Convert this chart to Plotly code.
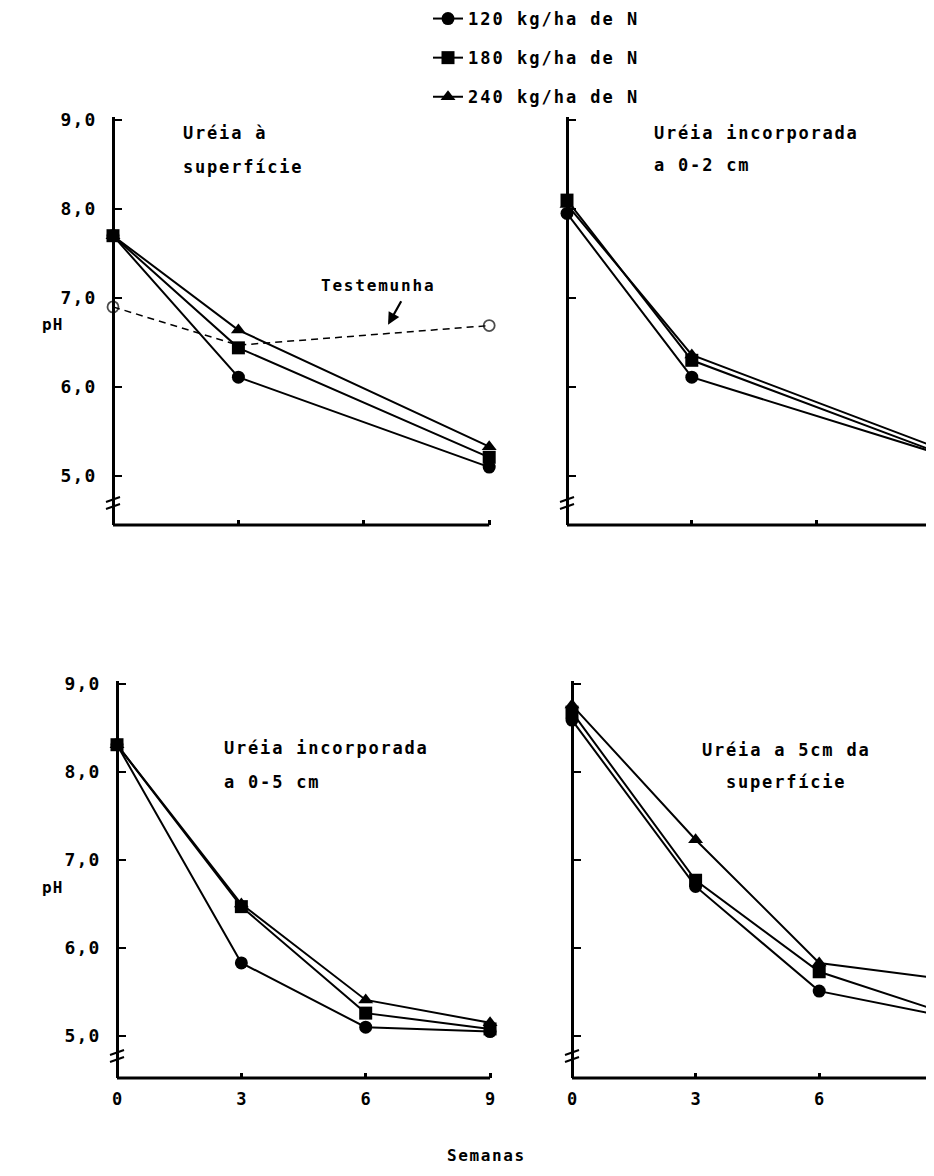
import plotly.graph_objects as go

# page is shown with the browser's default 8px body margin; coordinates below
# are given in window pixels and converted to figure fractions.
OFF = 8
W, H = 934 - 2 * OFF, 1176 - 2 * OFF

# ---------------- data ----------------
weeks_top = [0, 3, 9]
weeks_bottom = [0, 3, 6, 9]
doses = ["120 kg/ha de N", "180 kg/ha de N", "240 kg/ha de N"]

# Uréia à superfície
sup_120 = [7.70, 6.11, 5.10]
sup_180 = [7.70, 6.44, 5.21]
sup_240 = [7.70, 6.64, 5.33]
sup_testemunha = [6.90, 6.47, 6.69]

# Uréia incorporada a 0-2 cm
inc2_120 = [7.95, 6.11, 5.24]
inc2_180 = [8.10, 6.30, 5.25]
inc2_240 = [8.05, 6.36, 5.30]

# Uréia incorporada a 0-5 cm
inc5_120 = [8.31, 5.83, 5.10, 5.05]
inc5_180 = [8.31, 6.47, 5.26, 5.08]
inc5_240 = [8.31, 6.50, 5.41, 5.15]

# Uréia a 5 cm da superfície
prof5_120 = [8.59, 6.70, 5.51, 5.23]
prof5_180 = [8.68, 6.77, 5.73, 5.27]
prof5_240 = [8.76, 7.23, 5.83, 5.65]

ph_ticks = [5, 6, 7, 8, 9]
ph_labels = ["5,0", "6,0", "7,0", "8,0", "9,0"]
week_ticks = [0, 3, 6, 9]
week_labels = ["0", "3", "6", "9"]

# ---------------- style ----------------
FAM = "DejaVu Sans Mono"
SYMBOLS = ["circle", "square", "triangle-up"]


def T(s, sp=2.0):
    return f'<span style="letter-spacing:{sp}px">{s}</span>'


def px(x):
    return (x - OFF) / W


def py(y):
    return 1 - (y - OFF) / H


# panel geometry in window pixels
panels = [
    dict(yax=113, xl=92, xr=505, ppw=41.8, yt=117, yb=525, y9=120, ppu=89.0,
         weeks=weeks_top, series=[sup_120, sup_180, sup_240], labels=True, xlabels=False),
    dict(yax=567, xl=546, xr=926, ppw=41.6, yt=117, yb=525, y9=120, ppu=89.0,
         weeks=weeks_top, series=[inc2_120, inc2_180, inc2_240], labels=False, xlabels=False),
    dict(yax=117, xl=96, xr=505, ppw=41.45, yt=681, yb=1078, y9=684, ppu=88.0,
         weeks=weeks_bottom, series=[inc5_120, inc5_180, inc5_240], labels=True, xlabels=True),
    dict(yax=572, xl=551, xr=926, ppw=41.2, yt=681, yb=1078, y9=684, ppu=88.0,
         weeks=weeks_bottom, series=[prof5_120, prof5_180, prof5_240], labels=False, xlabels=True),
]

fig = go.Figure()
shapes = []
layout = {}

for i, p in enumerate(panels):
    n = "" if i == 0 else str(i + 1)
    xa, ya = "x" + n, "y" + n
    for j, vals in enumerate(p["series"]):
        fig.add_trace(go.Scatter(
            x=p["weeks"], y=vals, xaxis=xa, yaxis=ya,
            mode="lines+markers", name=T(doses[j]),
            legendgroup=doses[j], showlegend=(i == 0),
            line=dict(color="black", width=2),
            marker=dict(symbol=SYMBOLS[j], size=13, color="black"),
        ))
    if i == 0:
        fig.add_trace(go.Scatter(
            x=weeks_top, y=sup_testemunha, xaxis=xa, yaxis=ya,
            mode="lines+markers", name="Testemunha", showlegend=False,
            line=dict(color="black", width=1.5, dash="7px,5px"),
            marker=dict(symbol="circle-open", size=[11, 0, 11], color="black",
                        line=dict(width=1.8, color="black")),
        ))

    xr0 = -(p["yax"] - p["xl"]) / p["ppw"]
    xr1 = (p["xr"] - p["yax"]) / p["ppw"]
    yr0 = 9 - (p["yb"] - p["y9"]) / p["ppu"]
    yr1 = 9 + (p["y9"] - p["yt"]) / p["ppu"]

    xkey = "xaxis" + n
    ykey = "yaxis" + n
    layout[xkey] = dict(
        domain=[px(p["xl"]), min(1.0, px(p["xr"]))], range=[xr0, xr1], anchor=ya,
        showline=False, showgrid=False, zeroline=False,
        ticks="inside", ticklen=5, tickwidth=2.5, tickcolor="black",
        tickvals=week_ticks if p["xlabels"] else week_ticks[1:],
        ticktext=week_labels if p["xlabels"] else week_labels[1:],
        showticklabels=p["xlabels"], ticklabelstandoff=9,
        tickfont=dict(family=FAM, size=17, color="black", weight="bold"),
        fixedrange=True,
    )
    layout[ykey] = dict(
        domain=[py(p["yb"]), py(p["yt"])], range=[yr0, yr1],
        anchor="free", position=px(p["yax"]),
        showline=True, linewidth=2.8, linecolor="black",
        showgrid=False, zeroline=False,
        ticks="inside", ticklen=7, tickwidth=2, tickcolor="black",
        tickvals=ph_ticks, ticktext=[T(s, 1.2) for s in ph_labels],
        showticklabels=p["labels"], ticklabelstandoff=12,
        tickfont=dict(family=FAM, size=18, color="black", weight="bold"),
        fixedrange=True,
    )
    # x axis baseline from week 0
    shapes.append(dict(type="line", xref=xa, yref=ya + " domain", x0=0, x1=9, y0=0, y1=0,
                       line=dict(color="black", width=2.8)))
    # axis break marks
    yb = p["yb"] - 19
    for dy in (0, 7):
        shapes.append(dict(type="line", xref="paper", yref="paper",
                           x0=px(p["yax"] - 7), y0=py(yb - dy + 3),
                           x1=px(p["yax"] + 7), y1=py(yb - dy - 2),
                           line=dict(color="black", width=2)))

annotations = []


def txt(s, x, y, xanchor="left", size=17, sp=1.8):
    annotations.append(dict(text=T(s, sp), x=px(x), y=py(y), xref="paper", yref="paper",
                            xanchor=xanchor, yanchor="middle", showarrow=False,
                            font=dict(family=FAM, size=size, color="black", weight="bold")))


txt("Uréia à", 181, 133)
txt("superfície", 181, 167)
txt("Uréia incorporada", 652, 133)
txt("a 0-2 cm", 652, 165)
txt("Uréia incorporada", 222, 748)
txt("a 0-5 cm", 222, 782)
txt("Uréia a 5cm da", 786, 750, xanchor="center")
txt("superfície", 786, 782, xanchor="center")
txt("pH", 52, 325, xanchor="center", size=16, sp=1.0)
txt("pH", 52, 887, xanchor="center", size=16, sp=1.0)
txt("Semanas", 486, 1155, xanchor="center", size=16, sp=1.6)
txt("Testemunha", 378, 285, xanchor="center", size=16, sp=1.8)

# arrow from the "Testemunha" label down to the control line
annotations.append(dict(
    text="", x=6.58, y=6.70, xref="x", yref="y",
    ax=402 - 388, ay=300 - 325, axref="pixel", ayref="pixel",
    showarrow=True, arrowhead=2, arrowsize=1.1, arrowwidth=2.2, arrowcolor="black",
    standoff=0, startstandoff=0,
))

fig.update_layout(
    width=W, height=H,
    margin=dict(l=0, r=0, t=0, b=0, autoexpand=False),
    paper_bgcolor="white", plot_bgcolor="rgba(0,0,0,0)",
    showlegend=True,
    legend=dict(x=px(428), y=py(1), xanchor="left", yanchor="top",
                font=dict(family=FAM, size=17, color="black", weight="bold"),
                tracegroupgap=14, bgcolor="rgba(0,0,0,0)", itemwidth=30),
    shapes=shapes,
    annotations=annotations,
    **layout,
)

fig.write_html("out.html")
